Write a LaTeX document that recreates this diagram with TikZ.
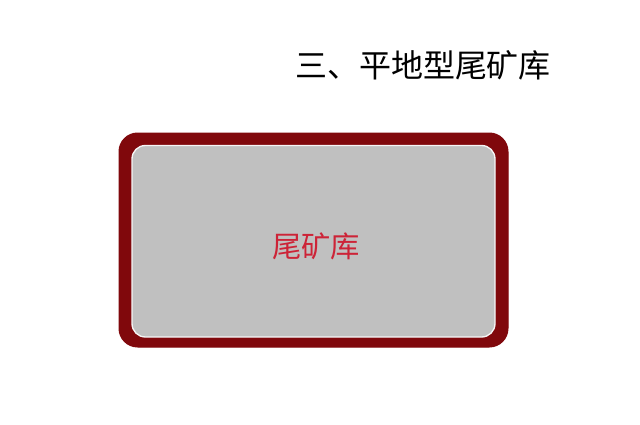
\documentclass[tikz,border=0pt]{standalone}
\usepackage{fontspec}
\newfontfamily\cjk{Noto Sans CJK SC}
\definecolor{damred}{RGB}{128,8,12}
\definecolor{pondgray}{RGB}{192,192,192}
\definecolor{labelred}{RGB}{205,35,55}
\tikzset{every picture/.style={line width=0.75pt}}

\begin{document}
\begin{tikzpicture}[x=0.75pt,y=0.75pt,yscale=-1,xscale=1]
	\useasboundingbox (0,0) rectangle (640,425);
	
	%Shape: Rounded Rect [id:dam] 
	\draw [fill=damred, draw=damred, rounded corners=14]  (119,133) rectangle (508,347) ;
	%Shape: Rounded Rect [id:pond] 
	\draw [fill=pondgray, draw=white!85!pondgray, line width=1, rounded corners=10]  (132,145.5) rectangle (495,337) ;
	
	% Text Node
	\draw (423,65) node [inner sep=0.75pt] (title) {\cjk\fontsize{24}{28}\selectfont 三、平地型尾矿库};
	% Text Node
	\draw (316,246) node [inner sep=0.75pt, text=labelred] (pond) {\cjk\fontsize{22}{26}\selectfont 尾矿库};
	
\end{tikzpicture}
\end{document}
